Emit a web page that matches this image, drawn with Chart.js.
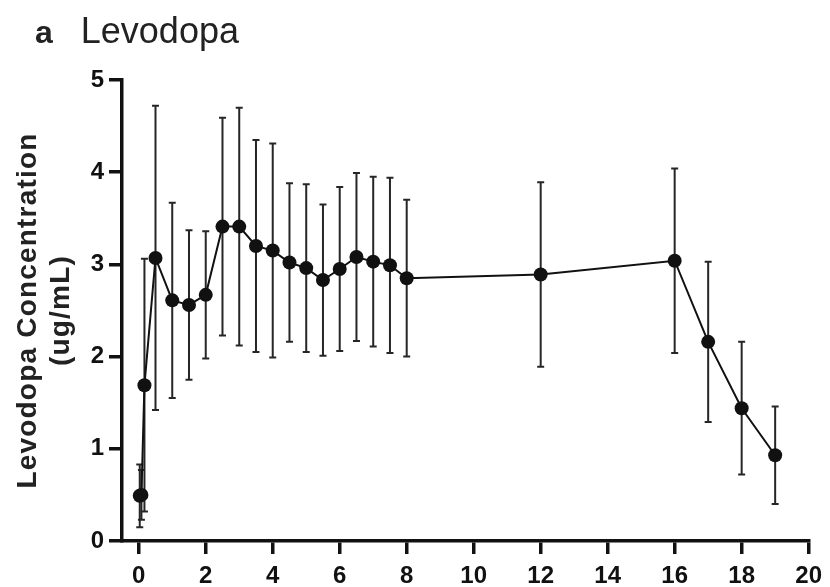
<!DOCTYPE html>
<html>
<head>
<meta charset="utf-8">
<script src="https://cdn.jsdelivr.net/npm/chart.js@4"></script>
<style>
  html, body { margin: 0; padding: 0; background: #fff; }
  #wrap { position: relative; width: 830px; height: 587px; }
  #head { position: absolute; left: 35px; top: 10px; font-family: "Liberation Sans", Arial, sans-serif; color: #222; white-space: nowrap; }
  #head .tag { font-family: "Liberation Sans", Arial, sans-serif; font-weight: bold; font-size: 32px; margin-right: 28px; }
  #head .name { font-family: "Liberation Sans", Arial, sans-serif; font-size: 36px; }
</style>
</head>
<body>
<div id="wrap">
  <div id="head"><span class="tag">a</span><span class="name">Levodopa</span></div>
  <canvas id="c" width="830" height="587"></canvas>
</div>
<script>
// sampling times (h), mean concentration and SD
const hours = [0.03, 0.08, 0.17, 0.5, 1, 1.5, 2, 2.5, 3, 3.5, 4, 4.5, 5, 5.5, 6, 6.5, 7, 7.5, 8, 12, 16, 17, 18, 19];
const meanConc = [0.49, 0.50, 1.69, 3.07, 2.61, 2.56, 2.67, 3.41, 3.41, 3.20, 3.15, 3.02, 2.96, 2.83, 2.95, 3.08, 3.03, 2.99, 2.85, 2.89, 3.04, 2.16, 1.44, 0.93];
const sdConc = [0.34, 0.27, 1.37, 1.65, 1.06, 0.81, 0.69, 1.18, 1.29, 1.15, 1.16, 0.86, 0.91, 0.82, 0.89, 0.91, 0.92, 0.95, 0.85, 1.00, 1.00, 0.87, 0.72, 0.53];
const xTicks = [0, 2, 4, 6, 8, 10, 12, 14, 16, 18, 20];
const yTicks = [0, 1, 2, 3, 4, 5];

const FONT = '"Liberation Sans", Arial, sans-serif';
const INK = '#111';

// vertical SD bars with short caps, drawn under the line
const errorBars = {
  id: 'errorBars',
  beforeDatasetsDraw(chart) {
    const ctx = chart.ctx;
    const xs = chart.scales.x, ys = chart.scales.y;
    ctx.save();
    ctx.strokeStyle = '#262626';
    ctx.lineWidth = 2;
    hours.forEach((t, i) => {
      const px = xs.getPixelForValue(t);
      const top = ys.getPixelForValue(meanConc[i] + sdConc[i]);
      const bot = ys.getPixelForValue(meanConc[i] - sdConc[i]);
      ctx.beginPath();
      ctx.moveTo(px, top); ctx.lineTo(px, bot);
      ctx.moveTo(px - 3.5, top); ctx.lineTo(px + 3.5, top);
      ctx.moveTo(px - 3.5, bot); ctx.lineTo(px + 3.5, bot);
      ctx.stroke();
    });
    ctx.restore();
  }
};

// the y title is set a little spaced out
const spacedTitle = {
  id: 'spacedTitle',
  afterUpdate(chart) {
    const y = chart.scales.y;
    if (y._spaced) return;
    const draw = y.drawTitle;
    y.drawTitle = function () {
      const ctx = this.ctx;
      ctx.save();
      ctx.letterSpacing = '1.2px';
      draw.apply(this, arguments);
      ctx.restore();
    };
    y._spaced = true;
  }
};

new Chart(document.getElementById('c'), {
  type: 'line',
  data: {
    datasets: [{
      data: hours.map((t, i) => ({ x: t, y: meanConc[i] })),
      borderColor: INK,
      borderWidth: 2,
      pointRadius: 7,
      pointBackgroundColor: INK,
      pointBorderWidth: 0,
      tension: 0,
      clip: false
    }]
  },
  options: {
    responsive: false,
    animation: false,
    layout: { padding: { top: 80, right: 17, left: 0, bottom: 0 } },
    plugins: { legend: { display: false }, tooltip: { enabled: false } },
    scales: {
      x: {
        type: 'linear',
        min: -0.5,
        max: 20,
        afterBuildTicks: s => { s.ticks = xTicks.map(v => ({ value: v })); },
        afterFit: s => { s.height = 46; },
        border: { display: true, color: INK, width: 3.5 },
        grid: { drawOnChartArea: false, drawTicks: true, tickLength: 13, color: INK, lineWidth: 3.5 },
        ticks: { color: INK, padding: 8, maxRotation: 0, font: { family: FONT, size: 24, weight: 'bold' } }
      },
      y: {
        min: 0,
        max: 5,
        afterBuildTicks: s => { s.ticks = yTicks.map(v => ({ value: v })); },
        afterFit: s => { s.width = 122; },
        border: { display: true, color: INK, width: 3.5 },
        grid: { drawOnChartArea: false, drawTicks: true, tickLength: 13, color: INK, lineWidth: 3.5 },
        ticks: { color: INK, padding: 5, font: { family: FONT, size: 24, weight: 'bold' } },
        title: {
          display: true,
          text: ['Levodopa Concentration', '(ug/mL)'],
          color: '#222',
          padding: { top: 11, bottom: 0 },
          font: { family: FONT, size: 28, weight: 'bold', lineHeight: 1.2 }
        }
      }
    }
  },
  plugins: [errorBars, spacedTitle]
});
</script>
</body>
</html>
